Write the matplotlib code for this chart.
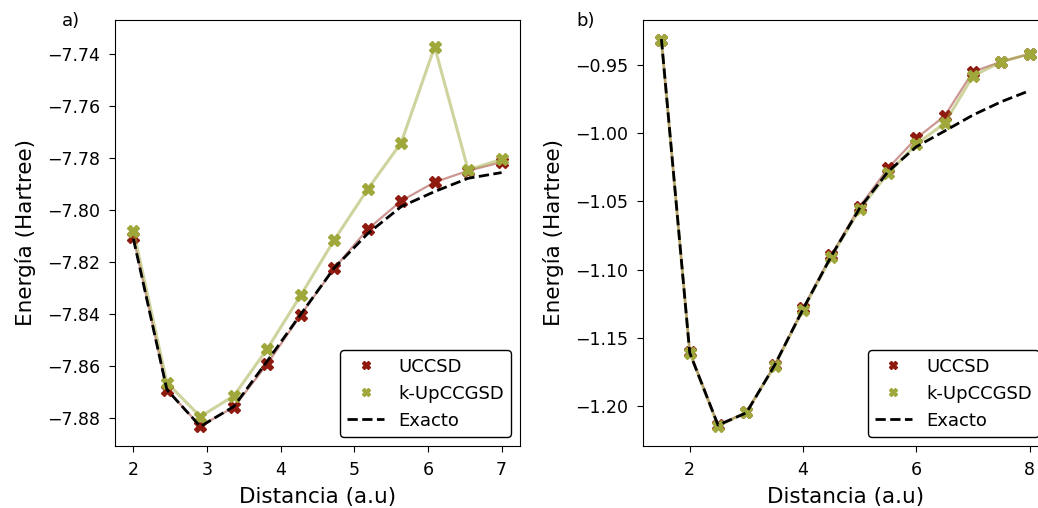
import matplotlib
matplotlib.use("Agg")
import matplotlib.pyplot as plt

# Panel a
dist_a = [2.0, 2.4545, 2.9091, 3.3636, 3.8182, 4.2727, 4.7273, 5.1818, 5.6364, 6.0909, 6.5455, 7.0]
uccsd_a = [-7.8104, -7.8691, -7.8830, -7.8758, -7.8591, -7.8403, -7.8223, -7.8073, -7.7964, -7.7892, -7.7848, -7.7815]
kup_a = [-7.8078, -7.8663, -7.8794, -7.8714, -7.8533, -7.8327, -7.8114, -7.7919, -7.7740, -7.7371, -7.7845, -7.7804]
exact_a = [-7.8110, -7.8690, -7.8832, -7.8755, -7.8580, -7.8400, -7.8222, -7.8090, -7.7986, -7.7928, -7.7877, -7.7855]

# Panel b
dist_b = [1.5, 2.0, 2.5, 3.0, 3.5, 4.0, 4.5, 5.0, 5.5, 6.0, 6.5, 7.0, 7.5, 8.0]
uccsd_b = [-0.9317, -1.1602, -1.2139, -1.2046, -1.1700, -1.1284, -1.0893, -1.0539, -1.0257, -1.0037, -0.9874, -0.9549, -0.9476, -0.9419]
kup_b = [-0.9317, -1.1609, -1.2147, -1.2046, -1.1705, -1.1296, -1.0905, -1.0558, -1.0294, -1.0081, -0.9927, -0.9581, -0.9476, -0.9419]
exact_b = [-0.9310, -1.1610, -1.2140, -1.2050, -1.1700, -1.1290, -1.0900, -1.0550, -1.0282, -1.0099, -0.9984, -0.9867, -0.9769, -0.9688]

RED = '#8e1a10'
GREEN = '#a0a83c'

fig = plt.figure(figsize=(10.38, 5.08), dpi=100)
W, H = 1038, 508
ax1 = fig.add_axes([115 / W, 1 - 446 / H, (520 - 115) / W, (446 - 20) / H])
ax2 = fig.add_axes([643 / W, 1 - 446 / H, (1048 - 643) / W, (446 - 20) / H])

for ax, x, u, k, e, lab in [(ax1, dist_a, uccsd_a, kup_a, exact_a, 'a)'),
                            (ax2, dist_b, uccsd_b, kup_b, exact_b, 'b)')]:
    ax.plot(x, u, '-', color=RED, alpha=0.45, lw=1.6)
    ax.plot(x, u, 'X', color=RED, ms=8.5, ls='none', label='UCCSD')
    ax.plot(x, k, '-', color=GREEN, alpha=0.5, lw=2.2)
    ax.plot(x, k, 'X', color=GREEN, ms=8.5, ls='none', label='k-UpCCGSD')
    ax.plot(x, e, '--', color='black', lw=2, label='Exacto')
    ax.set_xlabel('Distancia (a.u)', fontsize=15.5, labelpad=6)
    ax.set_ylabel('Energía (Hartree)', fontsize=15.5, labelpad=8)
    ax.tick_params(labelsize=12.5, length=4.5, pad=6)
    ax.legend(loc='lower right', fontsize=13, framealpha=1, edgecolor='black',
              markerscale=0.75)
    ax.text(-0.13 if lab == 'a)' else -0.165, 0.985, lab, transform=ax.transAxes, fontsize=13)

ax1.set_xticks([2, 3, 4, 5, 6, 7])
ax1.set_yticks([-7.88, -7.86, -7.84, -7.82, -7.80, -7.78, -7.76, -7.74])
ax1.set_ylim(-7.8907, -7.7268)
ax1.set_xlim(1.75, 7.25)
ax2.set_xticks([2, 4, 6, 8])
ax2.set_yticks([-1.20, -1.15, -1.10, -1.05, -1.00, -0.95])
ax2.set_xlim(1.175, 8.325)
ax2.set_ylim(-1.2293, -0.917)

fig.savefig('out.png', dpi=100)
